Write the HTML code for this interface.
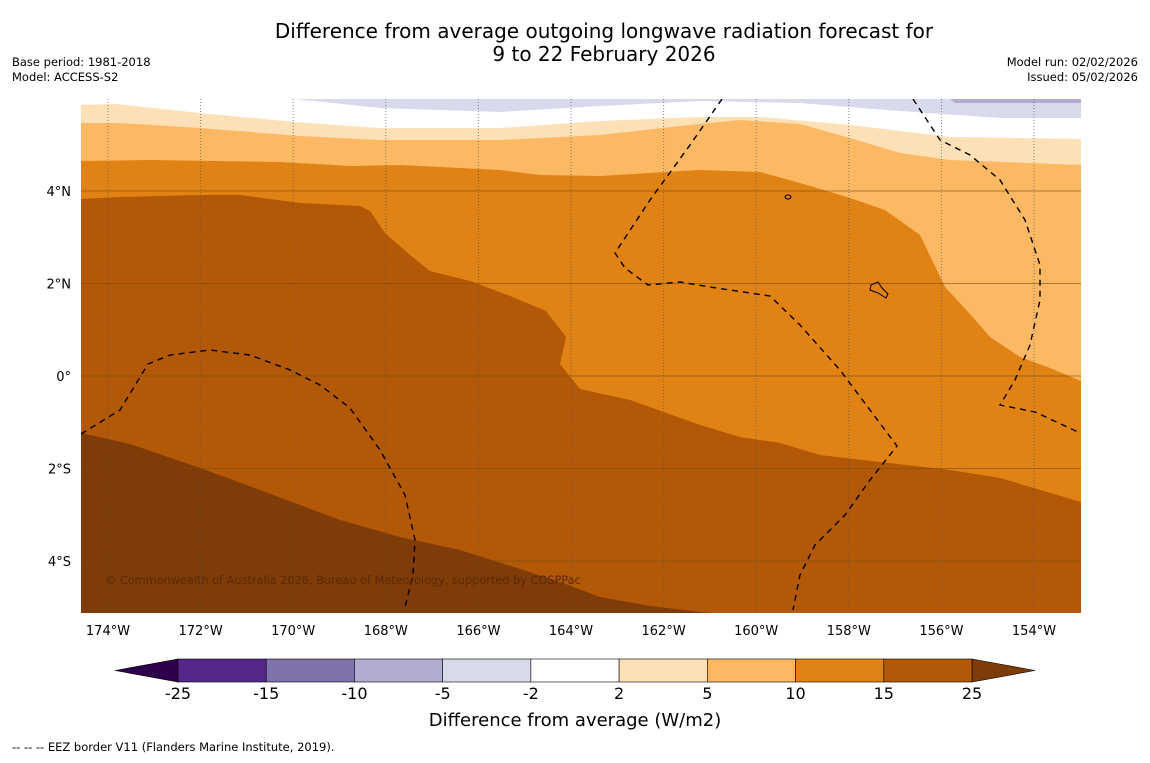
<!DOCTYPE html>
<html><head><meta charset="utf-8">
<style>
body{margin:0;background:#fff;width:1150px;height:758px;overflow:hidden;font-family:"Liberation Sans","DejaVu Sans",sans-serif;}
svg text{font-family:"DejaVu Sans","Liberation Sans",sans-serif;}
</style></head>
<body>
<svg id="chart" width="1150" height="758" viewBox="0 0 1150 758" xmlns="http://www.w3.org/2000/svg">
<rect width="1150" height="758" fill="#fff"/>
<text x="604" y="38" font-size="20" text-anchor="middle" fill="#000">Difference from average outgoing longwave radiation forecast for</text>
<text x="604" y="61" font-size="20" text-anchor="middle" fill="#000">9 to 22 February 2026</text>
<text x="12" y="66" font-size="11.5">Base period: 1981-2018</text>
<text x="12" y="81" font-size="11.5">Model: ACCESS-S2</text>
<text x="1138" y="66" font-size="11.5" text-anchor="end">Model run: 02/02/2026</text>
<text x="1138" y="81" font-size="11.5" text-anchor="end">Issued: 05/02/2026</text>
<defs><clipPath id="mapclip"><rect x="81" y="99" width="1000" height="514"/></clipPath></defs>
<g id="map" clip-path="url(#mapclip)"></g>
<g id="axes"></g>
<g id="cbar"></g>
<text x="575" y="726" font-size="18" text-anchor="middle">Difference from average (W/m2)</text>
<text x="12" y="751" font-size="11.5">--  --  -- EEZ border V11 (Flanders Marine Institute, 2019).</text>
</svg>
<script>
const levels = [-25,-15,-10,-5,-2,2,5,10,15,25];
const colors = ["#542788","#8073ac","#b2abd2","#d8daeb","#ffffff","#fee0b6","#fdb863","#e08214","#b35806"];
const underColor = "#2d004b", overColor = "#7f3b08";
const lonTicks = [-174,-172,-170,-168,-166,-164,-162,-160,-158,-156,-154];
const latTicks = [4,2,0,-2,-4];
const X0=81,X1=1081,Y0=99,Y1=613;
function xLon(lon){return 108+(lon+174)*46.3;}
function yLat(lat){return 376-lat*46.25;}
const bndPurpleTop=[[295,99],[380,108],[500,112],[600,106],[700,101],[800,103],[900,111],[1000,118],[1081,118]];
const bndWhite=[[81,105],[115,104],[200,113],[295,122],[380,128],[500,128],[600,121],[700,117],[760,117],[850,125],[950,137],[1081,139]];
const bndPale=[[81,123],[120,123],[200,128],[300,136],[380,140],[500,140],[600,135],[680,126],[740,120],[800,124],[850,138],[900,153],[950,160],[1081,165]];
const bndLight=[[81,161],[150,160],[280,162],[350,166],[400,165],[460,168],[500,170],[540,175],[600,176],[650,173],[700,170],[760,172],[800,183],[850,198],[885,210],[920,235],[945,287],[970,314],[990,337],[1020,357],[1050,368],[1081,381]];
const bndOrange=[[81,199],[120,197],[200,195],[240,195],[300,203],[360,206],[370,211],[385,233],[410,255],[430,271],[470,281],[510,296],[546,311],[566,337],[560,364],[580,389],[630,400],[700,425],[740,437],[780,443],[820,455],[880,462],[950,470],[1000,478],[1081,502]];
const bndDark=[[81,433],[130,444],[200,468],[260,490],[340,520],[400,537],[460,550],[520,569],[560,582],[600,597],[650,606],[710,613],[710,640],[81,640]];
const eez1=[[81,434],[120,410],[148,364],[170,355],[210,350],[250,355],[290,370],[320,385],[350,408],[380,450],[405,495],[415,540],[413,575],[405,607]];
const eez2=[[722,99],[690,145],[650,200],[615,253],[625,268],[648,285],[680,282],[710,287],[770,296],[800,325],[840,370],[870,410],[897,446],[870,480],[845,515],[815,545],[800,575],[793,610]];
const eez3=[[913,99],[940,140],[970,155],[1000,180],[1025,220],[1040,265],[1040,300],[1030,345],[1015,380],[1000,405],[1035,412],[1078,432]];
const NS="http://www.w3.org/2000/svg";
function mk(tag,attrs,parent){const e=document.createElementNS(NS,tag);for(const k in attrs)e.setAttribute(k,attrs[k]);parent.appendChild(e);return e;}
const map=document.getElementById('map');
function below(b){return "M"+b.map(p=>p.join(",")).join(" L")+" L1081,640 L81,640 Z";}
let r=mk('rect',{x:X0,y:Y0,width:1000,height:514,fill:colors[4]},map);


let p=mk('path',{d:"M"+bndPurpleTop.map(q=>q.join(",")).join(" L")+" L1081,90 L295,90 Z",fill:colors[3]},map);


p=mk('path',{d:"M950,99 L1081,99 L1081,103 L955,103 Z",fill:colors[2]},map);


const layers=[[bndWhite,5,'band-2-5'],[bndPale,6,'band-5-10'],[bndLight,7,'band-10-15'],[bndOrange,8,'band-15-25']];
layers.forEach(L=>{
  const e=mk('path',{d:below(L[0]),fill:colors[L[1]]},map);
  
  
});
p=mk('path',{d:"M"+bndDark.map(q=>q.join(",")).join(" L")+" Z",fill:overColor},map);


lonTicks.forEach(lon=>{
  const l=mk('line',{x1:xLon(lon),x2:xLon(lon),y1:Y0,y2:Y1,stroke:"#555",'stroke-width':1,'stroke-dasharray':"1,2",opacity:0.7},map);
  
  
});
latTicks.forEach(lat=>{
  const l=mk('line',{x1:X0,x2:X1,y1:yLat(lat),y2:yLat(lat),stroke:"#7a4a10",'stroke-width':1,opacity:0.6},map);
  
  
});
[eez1,eez2,eez3].forEach(b=>{
  const e=mk('polyline',{points:b.map(q=>q.join(",")).join(" "),fill:"none",stroke:"#000",'stroke-width':1.4,'stroke-dasharray':"6,5"},map);
  
  
});
const island=mk('path',{d:"M871,285 L878,282 L882,288 L888,294 L886,298 L878,293 L870,290 Z",fill:"none",stroke:"#000",'stroke-width':1},map);


const isl2=mk('ellipse',{cx:788,cy:197,rx:3,ry:2,fill:"none",stroke:"#000"},map);


const cr=mk('text',{x:105,y:584,'font-size':11.3,fill:"#5a2a05"},map);


cr.textContent="© Commonwealth of Australia 2026, Bureau of Meteorology, supported by COSPPac";
const axes=document.getElementById('axes');
lonTicks.forEach(lon=>{
  const t=mk('text',{x:xLon(lon),y:635,'font-size':13,'text-anchor':'middle'},axes);
  
  
  t.textContent=Math.abs(lon)+"°W";
});
latTicks.forEach(lat=>{
  const t=mk('text',{x:71,y:yLat(lat)+5,'font-size':13,'text-anchor':'end'},axes);
  
  
  t.textContent=lat===0?"0°":Math.abs(lat)+"°"+(lat>0?"N":"S");
});
const cb=document.getElementById('cbar');
const cx0=178,cx1=972,cy=659,ch=23,bw=(cx1-cx0)/colors.length;
let t=mk('polygon',{points:`${cx0},${cy} 115,${cy+ch/2} ${cx0},${cy+ch}`,fill:underColor,stroke:"#000",'stroke-width':0.6},cb);


t=mk('polygon',{points:`${cx1},${cy} 1035,${cy+ch/2} ${cx1},${cy+ch}`,fill:overColor,stroke:"#000",'stroke-width':0.6},cb);


colors.forEach((c,i)=>{
  const b=mk('rect',{x:cx0+i*bw,y:cy,width:bw,height:ch,fill:c,stroke:"#000",'stroke-width':0.6},cb);
  
  
});
levels.forEach((v,i)=>{
  const l=mk('text',{x:cx0+i*bw,y:699,'font-size':16,'text-anchor':'middle'},cb);
  
  
  l.textContent=v;
});
</script>
</body></html>
